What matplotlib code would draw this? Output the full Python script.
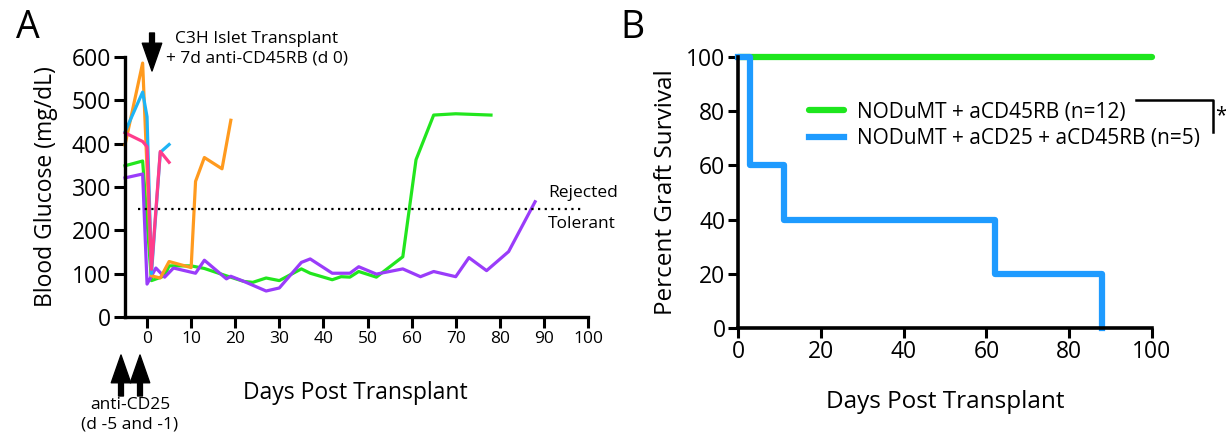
import matplotlib
matplotlib.use("Agg")
import matplotlib.pyplot as plt
from matplotlib.lines import Line2D

plt.rcParams['font.family'] = ['Open Sans', 'DejaVu Sans']

# ---------------- Panel A data (Blood glucose) ----------------
orange_days = [-5, -1, 1, 3, 5, 10, 11, 13, 17, 19]
orange_glu = [397, 586, 95, 90, 128, 114, 313, 368, 342, 454]

cyan_days = [-5, -1, 0, 1, 3, 5]
cyan_glu = [427, 519, 462, 100, 380, 398]

pink_days = [-5, -1, 0, 1, 3, 5]
pink_glu = [425, 405, 393, 110, 382, 357]

green_days = [-5, -1, 1, 4, 5, 10, 13, 18, 22, 24, 27, 30, 35, 37, 42, 44, 46, 48, 52, 58, 61, 65, 70, 78]
green_glu = [349, 360, 84, 95, 118, 118, 112, 95, 82, 80, 90, 84, 111, 101, 86, 93, 92, 105, 92, 139, 363, 466, 469, 466]

purple_days = [-5, -1, 0, 2, 4, 6, 11, 13, 18, 19, 22, 27, 30, 35, 37, 42, 46, 48, 52, 58, 62, 65, 70, 73, 77, 82, 88]
purple_glu = [321, 330, 76, 113, 92, 113, 101, 131, 88, 94, 82, 60, 67, 126, 134, 101, 101, 116, 99, 111, 93, 105, 93, 137, 107, 151, 266]

x_ticks_a = [0, 10, 20, 30, 40, 50, 60, 70, 80, 90, 100]
y_ticks_a = [0, 100, 200, 300, 400, 500, 600]
threshold = 250

# ---------------- Panel B data (Graft survival) ----------------
surv1_days = [0, 100]
surv1_pct = [100, 100]
surv2_days = [0, 3, 11, 62, 88]
surv2_pct = [100, 60, 40, 20, 0]
x_ticks_b = [0, 20, 40, 60, 80, 100]
y_ticks_b = [0, 20, 40, 60, 80, 100]
legend_labels = ["NODuMT + aCD45RB (n=12)", "NODuMT + aCD25 + aCD45RB (n=5)"]

W, H = 1226, 438
fig = plt.figure(figsize=(W / 100, H / 100), dpi=100)

def fx(px):
    return px / W

def fy(py):
    return 1 - py / H

# ---------- Panel A ----------
axA = fig.add_axes([fx(125), fy(317), fx(588) - fx(125), fy(57) - fy(317)])
lwA = 2.3
axA.plot(green_days, green_glu, color='#22E61E', lw=lwA, clip_on=False)
axA.plot(purple_days, purple_glu, color='#9A3CFA', lw=lwA, clip_on=False)
axA.plot(orange_days, orange_glu, color='#FF9A1E', lw=lwA, clip_on=False)
axA.plot(cyan_days, cyan_glu, color='#1EB4F5', lw=lwA, clip_on=False)
axA.plot(pink_days, pink_glu, color='#FF3C8C', lw=lwA, clip_on=False)
axA.hlines(threshold, -2, 99, colors='black', linestyles=(0, (1, 2)), lw=1.6)
axA.text(91, threshold + 18, "Rejected", ha='left', va='bottom', fontsize=12.5)
axA.text(91, threshold - 18, "Tolerant", ha='left', va='top', fontsize=12.5)

axA.set_xlim(-5, 100)
axA.set_ylim(0, 600)
axA.set_xticks(x_ticks_a)
axA.set_yticks(y_ticks_a)
axA.tick_params(axis='x', length=8, width=2.2, labelsize=12.5, pad=2)
axA.tick_params(axis='y', length=8, width=2.2, labelsize=16.5, pad=2)
for s in ['top', 'right']:
    axA.spines[s].set_visible(False)
for s in ['left', 'bottom']:
    axA.spines[s].set_linewidth(2.4)
axA.set_ylabel("Blood Glucose (mg/dL)", fontsize=16.5, labelpad=10)
fig.text(fx(355), fy(393), "Days Post Transplant", ha='center', va='center', fontsize=16.5)

# annotations A
fig.text(fx(28), fy(28), "A", fontsize=27, ha='center', va='center')
fig.text(fx(257), fy(49), "C3H Islet Transplant\n+ 7d anti-CD45RB (d 0)", ha='center', va='center',
         fontsize=12.5, linespacing=1.3)
arrow_kw = dict(facecolor='black', edgecolor='black', width=3.5, headwidth=14, headlength=20, shrink=0)
fig.add_artist(plt.Annotation('', xy=(fx(152), fy(71)), xytext=(fx(152), fy(33)),
                              xycoords='figure fraction', arrowprops=arrow_kw))
for ax_px in (121, 140):
    fig.add_artist(plt.Annotation('', xy=(fx(ax_px), fy(355)), xytext=(fx(ax_px), fy(396)),
                                  xycoords='figure fraction', arrowprops=arrow_kw))
fig.text(fx(130), fy(415), "anti-CD25\n(d -5 and -1)", ha='center', va='center', fontsize=12.5,
         linespacing=1.3)

# ---------- Panel B ----------
axB = fig.add_axes([fx(738), fy(328), fx(1152) - fx(738), fy(57) - fy(328)])
lwB = 4.5
l1, = axB.plot(surv1_days, surv1_pct, color='#1EE61E', lw=lwB, solid_capstyle='round', clip_on=False,
               label=legend_labels[0])
l2, = axB.step(surv2_days, surv2_pct, where='post', color='#1E9BFF', lw=lwB, clip_on=False,
               label=legend_labels[1])
axB.set_xlim(0, 100)
axB.set_ylim(0, 100)
axB.set_xticks(x_ticks_b)
axB.set_yticks(y_ticks_b)
axB.tick_params(axis='both', length=7, width=2.2, labelsize=16.5, pad=2)
for s in ['top', 'right']:
    axB.spines[s].set_visible(False)
for s in ['left', 'bottom']:
    axB.spines[s].set_linewidth(2.6)
axB.set_xlabel("Days Post Transplant", fontsize=17.5, labelpad=18)
axB.set_ylabel("Percent Graft Survival", fontsize=17.5, labelpad=6)
leg = axB.legend(handles=[l1, l2], loc='upper left', frameon=False,
                 fontsize=15, handlelength=1.7, handletextpad=0.6, labelspacing=0.25)
leg.set_bbox_to_anchor((fx(790), fy(83)), transform=fig.transFigure)

# significance bracket
fig.add_artist(Line2D([fx(1136), fx(1213), fx(1213)], [fy(100), fy(100), fy(132)], color='black', lw=1.8))
fig.text(fx(1221), fy(116), "*", fontsize=15, ha='center', va='center')
fig.text(fx(632), fy(28), "B", fontsize=27, ha='center', va='center')

fig.savefig("out.png", dpi=100)
